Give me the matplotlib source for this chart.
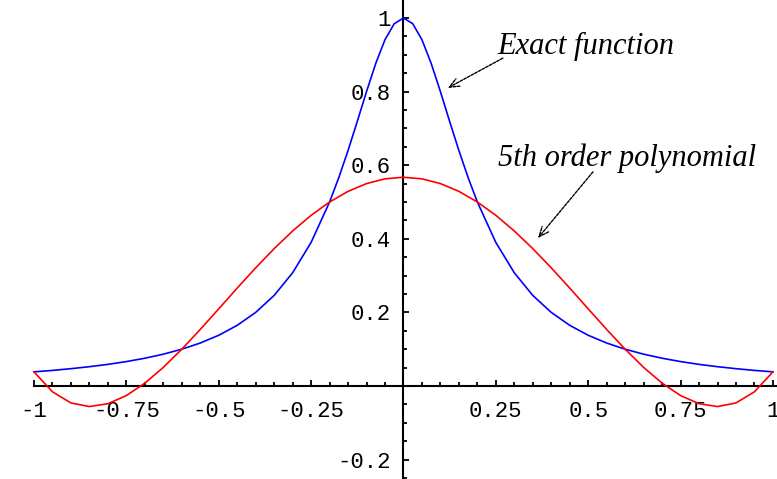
import matplotlib
matplotlib.use("Agg")
import matplotlib.pyplot as plt
from matplotlib.ticker import MultipleLocator, FixedLocator

# Data
x_exact = [-1.0, -0.95, -0.9, -0.85, -0.8, -0.75, -0.7, -0.65, -0.6, -0.55, -0.5,
           -0.45, -0.4, -0.35, -0.3, -0.25, -0.2, -0.175, -0.15, -0.125, -0.1,
           -0.075, -0.05, -0.025, 0.0, 0.025, 0.05, 0.075, 0.1, 0.125, 0.15, 0.175,
           0.2, 0.25, 0.3, 0.35, 0.4, 0.45, 0.5, 0.55, 0.6, 0.65, 0.7, 0.75, 0.8,
           0.85, 0.9, 0.95, 1.0]
y_exact = [0.0385, 0.0424, 0.0471, 0.0525, 0.0588, 0.0664, 0.0755, 0.0865, 0.100,
           0.1168, 0.1379, 0.1649, 0.200, 0.2462, 0.3077, 0.3902, 0.500, 0.5664,
           0.640, 0.7191, 0.800, 0.8767, 0.9412, 0.9846, 1.000, 0.9846, 0.9412,
           0.8767, 0.800, 0.7191, 0.640, 0.5664, 0.500, 0.3902, 0.3077, 0.2462,
           0.200, 0.1649, 0.1379, 0.1168, 0.100, 0.0865, 0.0755, 0.0664, 0.0588,
           0.0525, 0.0471, 0.0424, 0.0385]

x_poly = [-1.0, -0.95, -0.9, -0.85, -0.8, -0.75, -0.7, -0.65, -0.6, -0.55, -0.5,
          -0.45, -0.4, -0.35, -0.3, -0.25, -0.2, -0.15, -0.1, -0.05, 0.0, 0.05,
          0.1, 0.15, 0.2, 0.25, 0.3, 0.35, 0.4, 0.45, 0.5, 0.55, 0.6, 0.65, 0.7,
          0.75, 0.8, 0.85, 0.9, 0.95, 1.0]
y_poly = [0.0385, -0.0157, -0.0460, -0.0558, -0.0481, -0.0260, 0.0078, 0.0506,
          0.100, 0.1537, 0.2097, 0.2661, 0.3212, 0.3733, 0.4213, 0.4638, 0.500,
          0.5290, 0.5501, 0.5630, 0.5673, 0.5630, 0.5501, 0.5290, 0.500, 0.4638,
          0.4213, 0.3733, 0.3212, 0.2661, 0.2097, 0.1537, 0.100, 0.0506, 0.0078,
          -0.0260, -0.0481, -0.0558, -0.0460, -0.0157, 0.0385]

x_ticks = [-1, -0.75, -0.5, -0.25, 0.25, 0.5, 0.75, 1]
x_tick_labels = ["-1", "-0.75", "-0.5", "-0.25", "0.25", "0.5", "0.75", "1"]
y_ticks = [-0.2, 0.2, 0.4, 0.6, 0.8, 1.0]
y_tick_labels = ["-0.2", "0.2", "0.4", "0.6", "0.8", "1"]

fig = plt.figure(figsize=(7.77, 4.79), dpi=100)
ax = fig.add_axes([0, 0, 1, 1])
ax.set_xlim(-1.092, 1.011)
ax.set_ylim(-0.2527, 1.049)

ax.plot(x_exact, y_exact, color=(0, 0, 1), lw=1.2, zorder=3)
ax.plot(x_poly, y_poly, color=(1, 0, 0), lw=1.2, zorder=3)

for s in ["top", "right"]:
    ax.spines[s].set_visible(False)
ax.spines["left"].set_position(("data", 0))
ax.spines["bottom"].set_position(("data", 0))
ax.spines["bottom"].set_bounds(-1.0, 1.011)
for s in ["left", "bottom"]:
    ax.spines[s].set_linewidth(1.5)
    ax.spines[s].set_color("black")
    ax.spines[s].set_zorder(2)

ax.xaxis.set_major_locator(FixedLocator(x_ticks))
ax.xaxis.set_minor_locator(FixedLocator([i / 20 for i in range(-20, 21)]))
ax.yaxis.set_major_locator(FixedLocator(y_ticks))
ax.yaxis.set_minor_locator(MultipleLocator(0.05))
ax.set_xticklabels(x_tick_labels)
ax.set_yticklabels(y_tick_labels)

mono = "Liberation Mono"
ax.tick_params(axis="both", which="major", direction="in", length=4, width=1.3,
               labelsize=16, colors="black")
ax.tick_params(axis="both", which="minor", direction="in", length=3, width=1.3)
ax.tick_params(axis="x", which="major", pad=11)
ax.tick_params(axis="y", which="major", pad=9)
for lab in ax.get_xticklabels() + ax.get_yticklabels():
    lab.set_fontfamily(mono)

serif = "Liberation Serif"
arrow_kw = dict(arrowstyle="->,head_length=0.7,head_width=0.3", color="black",
                lw=1.0, linestyle=(0, (2, 1)), shrinkA=0, shrinkB=0)
ax.text(0.253, 0.922, "Exact function", fontsize=22, fontstyle="italic",
        family=serif, ha="left", va="center")
ax.annotate("", xy=(0.120, 0.81), xytext=(0.269, 0.891), arrowprops=arrow_kw)
ax.text(0.256, 0.618, "5th order polynomial", fontsize=22, fontstyle="italic",
        family=serif, ha="left", va="center")
ax.annotate("", xy=(0.364, 0.402), xytext=(0.513, 0.582), arrowprops=arrow_kw)

fig.savefig("out.png", dpi=100)
